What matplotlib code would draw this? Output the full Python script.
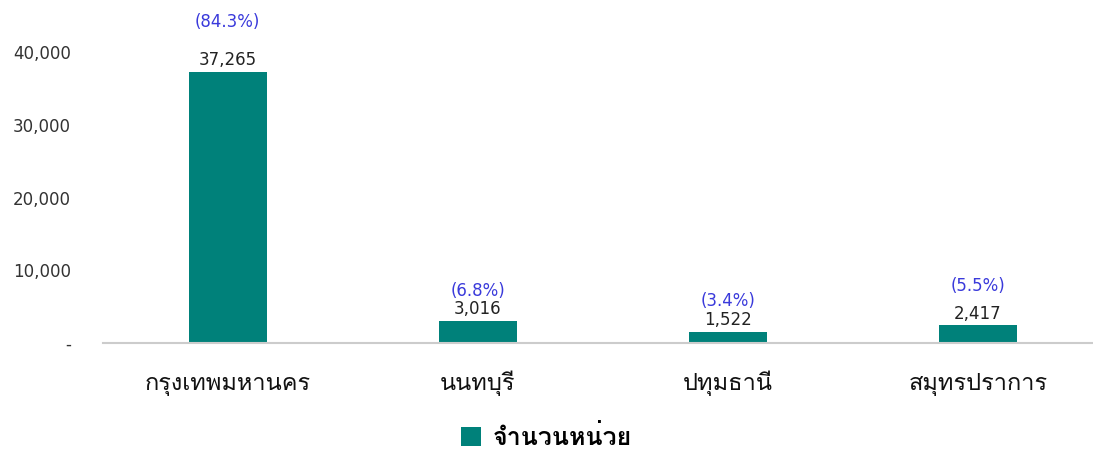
import matplotlib
matplotlib.use("Agg")
import matplotlib.pyplot as plt

categories = ["กรุงเทพมหานคร", "นนทบุรี", "ปทุมธานี", "สมุทรปราการ"]
units = [37265, 3016, 1522, 2417]
shares = ["(84.3%)", "(6.8%)", "(3.4%)", "(5.5%)"]
yticks = [0, 10000, 20000, 30000, 40000]
ytick_labels = ["-", "10,000", "20,000", "30,000", "40,000"]
legend_label = "จำนวนหน่วย"

# label layout (offsets in points above the value label)
pct_offsets = [28, 13, 14, 20]

plt.rcParams["font.family"] = ["DejaVu Sans", "Loma", "Noto Sans Thai Looped"]

teal = "#00817A"
fig = plt.figure(figsize=(10.93, 4.59), dpi=100)
ax = fig.add_axes([0.094, 0.253, 0.906, 0.747])
x = list(range(len(categories)))
bars = ax.bar(x, units, width=0.31, color=teal, label=legend_label, zorder=2)
ax.set_xlim(-0.5, 3.46)
ax.set_ylim(0, 47200)
ax.set_yticks(yticks)
ax.set_yticklabels(ytick_labels, fontsize=12, color="#333333")
ax.set_xticks(x)
ax.set_xticklabels(categories, fontsize=17, color="#111111")
for lab in ax.get_xticklabels():
    lab.set_va("baseline")
ax.tick_params(axis="both", length=0)
ax.tick_params(axis="x", pad=34)
ax.tick_params(axis="y", pad=23)
for s in ["top", "right", "left"]:
    ax.spines[s].set_visible(False)
ax.spines["bottom"].set_color("#cccccc")
ax.spines["bottom"].set_linewidth(1.5)

for xi, v, p, off in zip(x, units, shares, pct_offsets):
    ax.annotate(f"{v:,}", (xi, v), xytext=(0, 2), textcoords="offset points",
                ha="center", va="bottom", fontsize=12, color="#222222")
    ax.annotate(p, (xi, v), xytext=(0, 2 + off), textcoords="offset points",
                ha="center", va="bottom", fontsize=12, color="#3A3ADB")

fig.legend(handles=[bars], labels=[legend_label], loc="lower center",
           bbox_to_anchor=(0.5, -0.03), frameon=False,
           prop={"size": 18, "weight": "bold"},
           handlelength=0.8, handleheight=0.8, handletextpad=0.5)
fig.savefig("out.png", dpi=100)
